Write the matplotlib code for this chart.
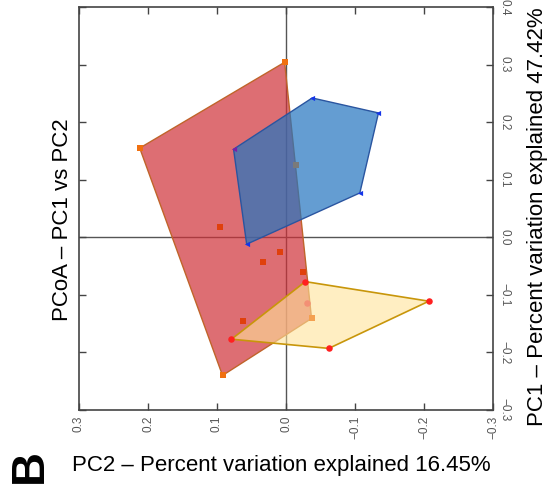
import matplotlib
matplotlib.use("Agg")
import matplotlib.pyplot as plt
from matplotlib.patches import Polygon

plt.rcParams['font.family'] = ['Liberation Sans', 'DejaVu Sans']

# PCoA coordinates (PC2, PC1) per group
red_hull_pc2 = [0.002, 0.212, 0.092, -0.037]
red_hull_pc1 = [0.304, 0.155, -0.240, -0.141]
red_pts_pc2 = [0.096, 0.008, 0.033, -0.024, 0.062]
red_pts_pc1 = [0.017, -0.026, -0.043, -0.060, -0.145]

blue_pc2 = [0.076, -0.038, -0.134, -0.107, 0.057]
blue_pc1 = [0.153, 0.242, 0.216, 0.077, -0.012]

yellow_pc2 = [-0.028, -0.207, -0.062, 0.079]
yellow_pc1 = [-0.077, -0.111, -0.193, -0.177]

gray_pc2, gray_pc1 = [-0.015], [0.125]
salmon_pc2, salmon_pc1 = [-0.031], [-0.115]
light_sq_pc2, light_sq_pc1 = [-0.037], [-0.141]

xticks = [0.3, 0.2, 0.1, 0.0, -0.1, -0.2, -0.3]
yticks = [-0.3, -0.2, -0.1, 0.0, 0.1, 0.2, 0.3, 0.4]

def fmt(v):
    return '%.1f' % v if v >= 0 else '\u2212%.1f' % -v

fig = plt.figure(figsize=(5.51, 4.88), dpi=100)
ax = fig.add_axes([79/551, 78/488, 414/551, 403/488])

ax.axhline(0, color='#555555', lw=1, zorder=1)
ax.axvline(0, color='#555555', lw=1, zorder=1)

ax.add_patch(Polygon(list(zip(red_hull_pc2, red_hull_pc1)), closed=True,
                     facecolor='#cf3138', alpha=0.7, edgecolor='none', zorder=2))
ax.add_patch(Polygon(list(zip(red_hull_pc2, red_hull_pc1)), closed=True,
                     fill=False, edgecolor='#c0642a', lw=1, zorder=2))
ax.add_patch(Polygon(list(zip(blue_pc2, blue_pc1)), closed=True,
                     facecolor='#2274c0', alpha=0.7, edgecolor='none', zorder=3))
ax.add_patch(Polygon(list(zip(blue_pc2, blue_pc1)), closed=True,
                     fill=False, edgecolor='#2a55a0', lw=1, zorder=3))
ax.add_patch(Polygon(list(zip(yellow_pc2, yellow_pc1)), closed=True,
                     facecolor='#ffe39a', alpha=0.6, edgecolor='none', zorder=4))
ax.add_patch(Polygon(list(zip(yellow_pc2, yellow_pc1)), closed=True,
                     fill=False, edgecolor='#c8960a', lw=1.2, zorder=4))

ax.scatter(red_hull_pc2[:3], red_hull_pc1[:3], marker='s', s=22, color='#f07010', zorder=5, lw=0)
ax.scatter(red_pts_pc2, red_pts_pc1, marker='s', s=22, color='#e0400c', zorder=5, lw=0)
ax.scatter(light_sq_pc2, light_sq_pc1, marker='s', s=22, color='#f4a050', zorder=5, lw=0)
ax.scatter(gray_pc2, gray_pc1, marker='s', s=22, color='#7a7a7a', zorder=5, lw=0)
ax.scatter(blue_pc2[1:], blue_pc1[1:], marker='<', s=14, color='#1535e8', zorder=5, lw=0)
ax.scatter(blue_pc2[:1], blue_pc1[:1], marker='<', s=14, color='#7a1fa8', zorder=5, lw=0)
ax.scatter(yellow_pc2, yellow_pc1, marker='o', s=22, color='#ff2020', zorder=5, lw=0)
ax.scatter(salmon_pc2, salmon_pc1, marker='o', s=22, color='#f39075', zorder=5, lw=0)

ax.set_xlim(0.3, -0.3)
ax.set_ylim(-0.3, 0.4)
ax.set_xticks(xticks)
ax.set_yticks(yticks)
ax.set_xticklabels([fmt(v) for v in xticks])
ax.set_yticklabels([fmt(v) for v in yticks])

ax.tick_params(axis='both', direction='in', length=5, width=1, color='#444444',
               labelsize=8.5, labelcolor='#555555', top=True, right=True,
               bottom=True, left=True)
ax.tick_params(axis='x', labelrotation=90, labelbottom=True, labeltop=False, pad=4)
ax.tick_params(axis='y', labelrotation=-90, labelleft=False, labelright=True, pad=4)
for lbl in ax.get_yticklabels():
    lbl.set_verticalalignment('center')

for sp in ax.spines.values():
    sp.set_color('#444444')
    sp.set_linewidth(1.2)

fig.text(62/551, 1 - 220/488, 'PCoA \u2013 PC1 vs PC2', rotation=90,
         ha='center', va='center', fontsize=16)
fig.text(537/551, 1 - 217/488, 'PC1 \u2013 Percent variation explained 47.42%',
         rotation=90, ha='center', va='center', fontsize=16)
fig.text(281/551, 1 - 466/488, 'PC2 \u2013 Percent variation explained 16.45%',
         ha='center', va='center', fontsize=16)
fig.text(30/551, 1 - 466/488, 'B', rotation=90, ha='center', va='center',
         fontsize=34, fontweight='bold')

fig.savefig('out.png', dpi=100)
